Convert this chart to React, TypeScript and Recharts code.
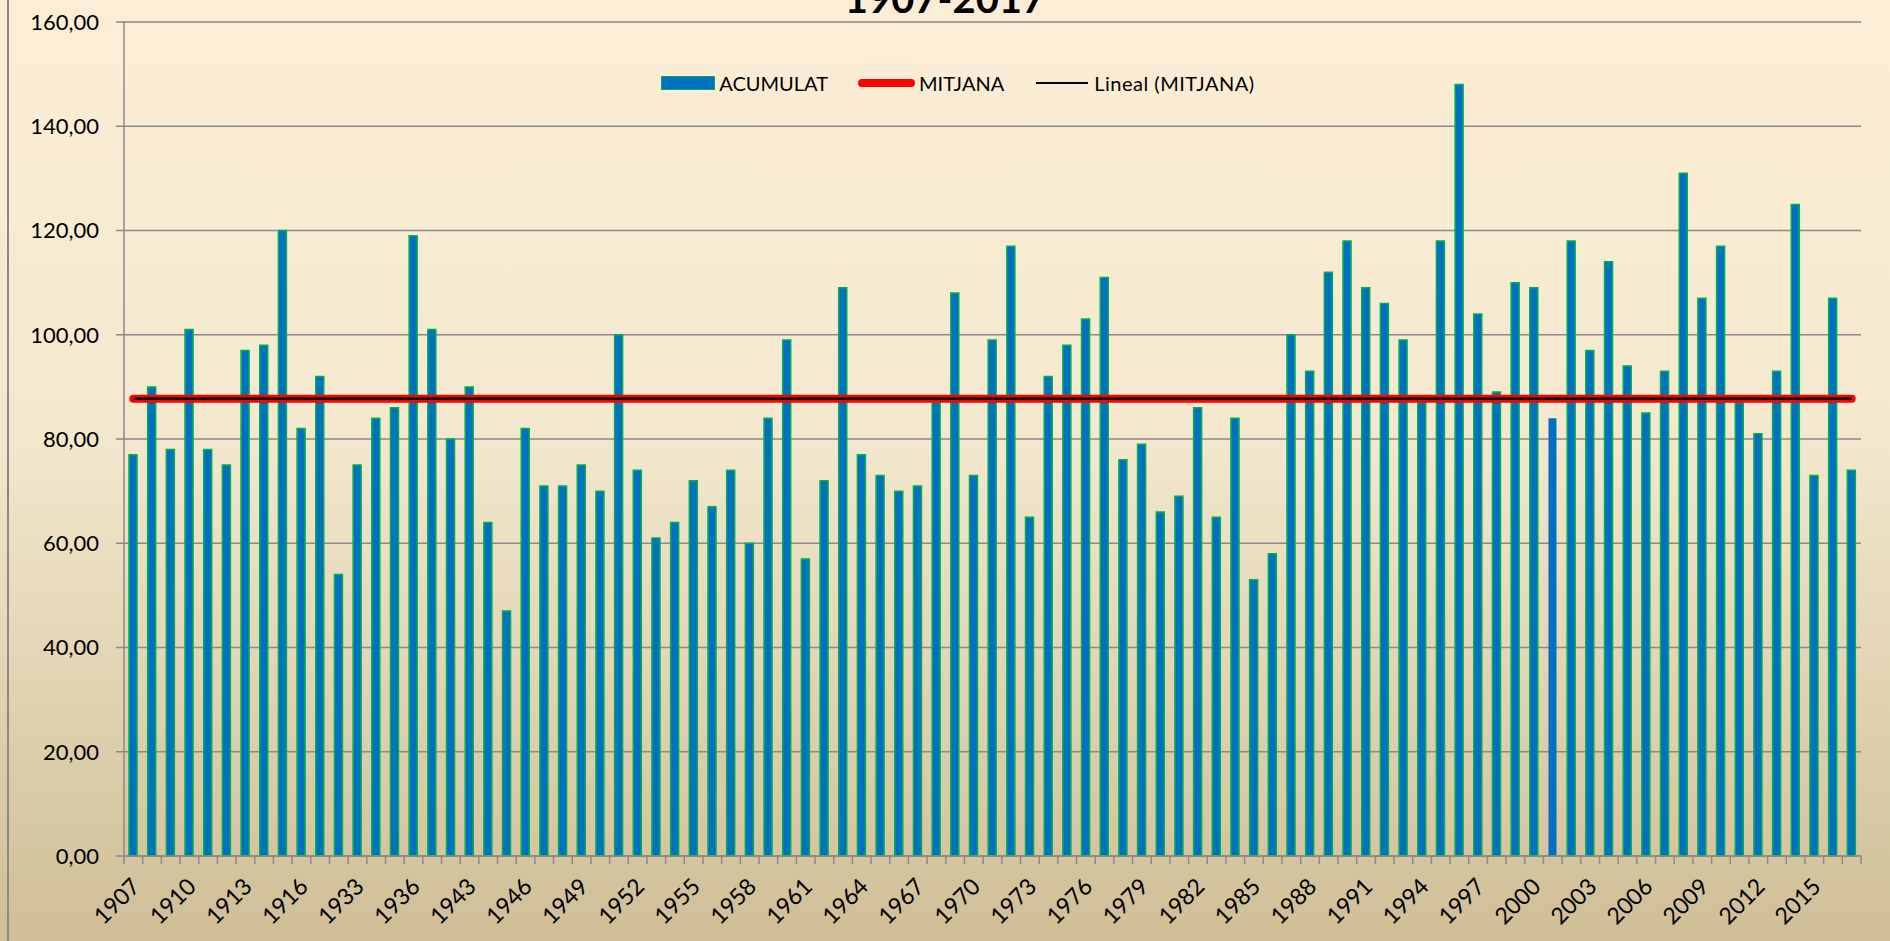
import { Bar, CartesianGrid, Cell, ComposedChart, Legend, Line, XAxis, YAxis } from "recharts";

const YEARS = [
  1907, 1908, 1909, 1910, 1911, 1912, 1913, 1914, 1915, 1916, 1931, 1932, 1933, 1934, 1935, 1936, 1941, 1942,
  1943, 1944, 1945, 1946, 1947, 1948, 1949, 1950, 1951, 1952, 1953, 1954, 1955, 1956, 1957, 1958, 1959, 1960,
  1961, 1962, 1963, 1964, 1965, 1966, 1967, 1968, 1969, 1970, 1971, 1972, 1973, 1974, 1975, 1976, 1977, 1978,
  1979, 1980, 1981, 1982, 1983, 1984, 1985, 1986, 1987, 1988, 1989, 1990, 1991, 1992, 1993, 1994, 1995, 1996,
  1997, 1998, 1999, 2000, 2001, 2002, 2003, 2004, 2005, 2006, 2007, 2008, 2009, 2010, 2011, 2012, 2013, 2014,
  2015, 2016, 2017,
];

const ACUMULAT = [
  77, 90, 78, 101, 78, 75, 97, 98, 120, 82, 92, 54, 75, 84, 86, 119, 101, 80, 90, 64, 47, 82, 71, 71, 75, 70, 100,
  74, 61, 64, 72, 67, 74, 60, 84, 99, 57, 72, 109, 77, 73, 70, 71, 87, 108, 73, 99, 117, 65, 92, 98, 103, 111, 76,
  79, 66, 69, 86, 65, 84, 53, 58, 100, 93, 112, 118, 109, 106, 99, 87, 118, 148, 104, 89, 110, 109, 84, 118, 97,
  114, 94, 85, 93, 131, 107, 117, 87, 81, 93, 125, 73, 107, 74,
];

// mean line
const MITJANA = 87.7;
const Y_TICKS = [0, 20, 40, 60, 80, 100, 120, 140, 160];
const NO_BORDER_YEARS = [2001];

const data = YEARS.map((year, i) => ({
  year: String(year),
  acumulat: ACUMULAT[i],
  mitjana: MITJANA,
  lineal: MITJANA,
}));

const W = 1890;
const H = 941;
const PLOT_LEFT = 124;
const PLOT_RIGHT = 1861;
const BAND = (PLOT_RIGHT - PLOT_LEFT) / YEARS.length;
const FONT = "Lato, 'Open Sans', sans-serif";
const GRID = "#8a8a8a";

const fmt = (v: number) => v.toFixed(2).replace(".", ",");

function YearTick(props: any) {
  const { x, y, payload } = props;
  const idx = payload.index;
  const lx = x + 8;
  const ly = y + 32;
  return (
    <g>
      <line x1={x - BAND / 2} x2={x - BAND / 2} y1={y} y2={y + 8} stroke={GRID} strokeWidth={1.5} />
      {idx === YEARS.length - 1 && (
        <line x1={x + BAND / 2} x2={x + BAND / 2} y1={y} y2={y + 8} stroke={GRID} strokeWidth={1.5} />
      )}
      {idx % 3 === 0 && (
        <text
          x={lx}
          y={ly}
          textAnchor="end"
          transform={`rotate(-45, ${lx}, ${ly})`}
          fontSize={23}
          fontFamily={FONT}
          fill="#000"
        >
          {payload.value}
        </text>
      )}
    </g>
  );
}

function LegendBox() {
  const txt = { fontSize: 20, fontFamily: FONT, color: "#000" };
  return (
    <div style={{ display: "flex", alignItems: "center", justifyContent: "center", height: 24, paddingLeft: 26 }}>
      <span style={{ width: 52, height: 12, background: "#0070C0", border: "1.5px solid #00B050", marginRight: 4 }} />
      <span style={{ ...txt, marginRight: 30 }}>ACUMULAT</span>
      <span style={{ width: 57, height: 8, background: "#FF0000", borderRadius: 4, marginRight: 4 }} />
      <span style={{ ...txt, marginRight: 32 }}>MITJANA</span>
      <span style={{ width: 52, height: 2, background: "#000", marginRight: 6 }} />
      <span style={{ ...txt, letterSpacing: 0.5 }}>Lineal (MITJANA)</span>
    </div>
  );
}

export default function App() {
  return (
    <div
      style={{
        position: "absolute",
        left: 0,
        top: 0,
        width: W,
        height: H,
        overflow: "hidden",
        background: "linear-gradient(to bottom, #FCEED6 0%, #F4E9CF 45%, #CFBE96 100%)",
      }}
    >
      <div style={{ position: "absolute", left: 7, top: 0, bottom: 0, width: 1.5, background: GRID }} />
      <div
        style={{
          position: "absolute",
          left: 0,
          width: W,
          top: -22,
          textAlign: "center",
          fontFamily: FONT,
          fontWeight: 700,
          fontSize: 40,
          lineHeight: "40px",
          color: "#000",
        }}
      >
        1907-2017
      </div>
      <ComposedChart width={W} height={H} data={data} margin={{ top: 22, right: W - PLOT_RIGHT, bottom: 0, left: 0 }}>
        <CartesianGrid horizontal vertical={false} stroke={GRID} strokeWidth={1.5} />
        <XAxis
          dataKey="year"
          interval={0}
          height={85}
          axisLine={{ stroke: GRID, strokeWidth: 1.5 }}
          tickLine={false}
          tickSize={0}
          tickMargin={0}
          tick={<YearTick />}
        />
        <YAxis
          domain={[0, 160]}
          ticks={Y_TICKS}
          width={PLOT_LEFT}
          tickFormatter={fmt}
          axisLine={{ stroke: GRID, strokeWidth: 1.5 }}
          tickLine={{ stroke: GRID, strokeWidth: 1.5 }}
          tickSize={8}
          tickMargin={17}
          tick={{ fontSize: 22, fontFamily: FONT, fill: "#000" }}
        />
        <Legend
          layout="horizontal"
          verticalAlign="middle"
          align="center"
          wrapperStyle={{ top: 71, left: 0, width: W }}
          content={() => <LegendBox />}
        />
        <Bar dataKey="acumulat" name="ACUMULAT" barSize={8} fill="#0070C0" stroke="#00B050" strokeWidth={1.5} isAnimationActive={false}>
          {data.map((d) => (
            <Cell key={d.year} stroke={NO_BORDER_YEARS.includes(Number(d.year)) ? "none" : "#00B050"} />
          ))}
        </Bar>
        <Line
          dataKey="mitjana"
          name="MITJANA"
          stroke="#FF0000"
          strokeWidth={8}
          strokeLinecap="round"
          dot={false}
          activeDot={false}
          isAnimationActive={false}
        />
        <Line
          dataKey="lineal"
          name="Lineal (MITJANA)"
          stroke="#000"
          strokeWidth={2.5}
          dot={false}
          activeDot={false}
          isAnimationActive={false}
        />
      </ComposedChart>
    </div>
  );
}
